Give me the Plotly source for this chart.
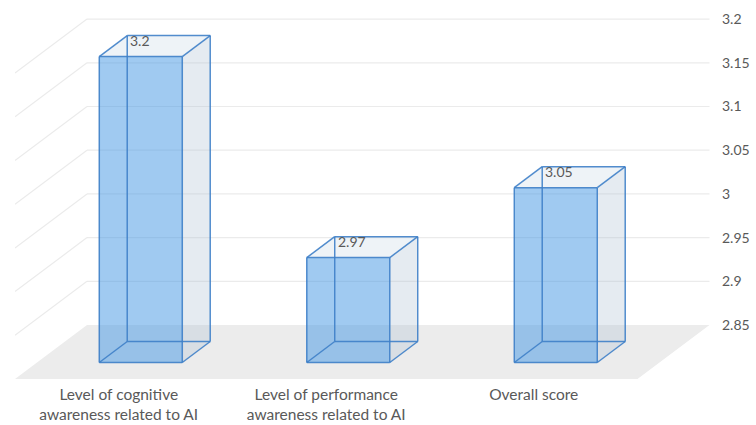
import plotly.graph_objects as go

# ---------------- data ----------------
categories = [
    "Level of cognitive<br>awareness related to AI",
    "Level of performance<br>awareness related to AI",
    "Overall score",
]
values = [3.2, 2.97, 3.05]
value_labels = ["3.2", "2.97", "3.05"]
tick_values = [2.85, 2.9, 2.95, 3.0, 3.05, 3.1, 3.15, 3.2]
tick_labels = ["2.85", "2.9", "2.95", "3", "3.05", "3.1", "3.15", "3.2"]
Y_MIN = 2.85

# ---------------- geometry ----------------
W, H = 756, 425
ML, MR, MT, MB = 15, 46, 0, 46
PX_PER_CAT = 207.5
PX_PER_UNIT = 874.0
DX = 72 / PX_PER_CAT          # full depth shift in x units
DY = 54 / PX_PER_UNIT         # full depth shift in y units
F_FRONT, F_BACK = 0.306, 0.694
HALF = 0.2
plot_w = W - ML - MR
plot_h = H - MT - MB
x_range = [-0.5, -0.5 + plot_w / PX_PER_CAT]
y_range = [Y_MIN, Y_MIN + plot_h / PX_PER_UNIT]
y2_range = [y_range[0] - DY, y_range[1] - DY]

TEXT = "#595959"
EDGE = "rgba(62,128,200,0.9)"
FONT = "Lato"

n = len(categories)
idx = list(range(n))

fig = go.Figure()

shapes = []


def path(pts):
    return "M " + " L ".join(f"{x},{y}" for x, y in pts) + " Z"


# floor
floor = [(-0.5, Y_MIN), (n - 0.5, Y_MIN), (n - 0.5 + DX, Y_MIN + DY), (-0.5 + DX, Y_MIN + DY)]
shapes.append(dict(type="path", path=path(floor), xref="x", yref="y",
                   fillcolor="#ECECEC", line=dict(width=0), layer="below"))

# back wall and side wall gridlines
for t in tick_values[1:]:
    shapes.append(dict(type="line", xref="x", yref="y", x0=-0.5 + DX, x1=n - 0.5 + DX,
                       y0=t + DY, y1=t + DY, line=dict(color="#EBEBEB", width=1.2), layer="below"))
    shapes.append(dict(type="line", xref="x", yref="y", x0=-0.5, x1=-0.5 + DX,
                       y0=t, y1=t + DY, line=dict(color="#EBEBEB", width=1.2), layer="below"))

fdx, fdy = F_FRONT * DX, F_FRONT * DY
bdx, bdy = F_BACK * DX, F_BACK * DY
ddx, ddy = bdx - fdx, bdy - fdy

annotations = []
for i, v, lab in zip(idx, values, value_labels):
    xl, xr = i + fdx - HALF, i + fdx + HALF
    yb, yt = Y_MIN + fdy, v + fdy
    # side face
    side = [(xr, yb), (xr + ddx, yb + ddy), (xr + ddx, yt + ddy), (xr, yt)]
    shapes.append(dict(type="path", path=path(side), xref="x", yref="y",
                       fillcolor="rgba(175,192,210,0.32)", line=dict(width=0), layer="below"))
    # top face
    top = [(xl, yt), (xr, yt), (xr + ddx, yt + ddy), (xl + ddx, yt + ddy)]
    shapes.append(dict(type="path", path=path(top), xref="x", yref="y",
                       fillcolor="rgba(200,215,230,0.3)", line=dict(width=0), layer="below"))
    # edges of the cuboid
    front = [(xl, yb), (xr, yb), (xr, yt), (xl, yt)]
    back = [(x + ddx, y + ddy) for x, y in front]
    edges = []
    for k in range(4):
        edges.append((front[k], front[(k + 1) % 4]))
        edges.append((back[k], back[(k + 1) % 4]))
        edges.append((front[k], back[k]))
    for (a, b) in edges:
        shapes.append(dict(type="line", xref="x", yref="y", x0=a[0], y0=a[1], x1=b[0], y1=b[1],
                           line=dict(color=EDGE, width=1.5), layer="above"))
    annotations.append(dict(x=xl + ddx, y=yt + ddy, xref="x", yref="y", text=lab,
                            showarrow=False, xanchor="left", yanchor="middle", xshift=1, yshift=-5,
                            font=dict(family=FONT, size=14, color=TEXT)))

fig.add_trace(go.Bar(
    x=[i + fdx for i in idx],
    y=[v - Y_MIN for v in values],
    base=Y_MIN + fdy,
    width=2 * HALF,
    marker=dict(color="rgba(66,150,228,0.5)", line=dict(width=0)),
    hoverinfo="skip",
    showlegend=False,
))
# invisible trace to activate the right axis
fig.add_trace(go.Scatter(x=[x_range[0]], y=[y2_range[0]], yaxis="y2", mode="markers",
                         marker=dict(opacity=0), showlegend=False, hoverinfo="skip"))

fig.update_layout(
    width=W, height=H,
    margin=dict(l=ML, r=MR, t=MT, b=MB, autoexpand=False),
    paper_bgcolor="white", plot_bgcolor="white",
    shapes=shapes, annotations=annotations,
    font=dict(family=FONT, size=14, color=TEXT),
    xaxis=dict(range=x_range, tickmode="array", tickvals=idx, ticktext=categories,
               showgrid=False, zeroline=False, showline=False, ticks="", automargin=False,
               tickfont=dict(family=FONT, size=15.5, color=TEXT), ticklabelstandoff=4),
    yaxis=dict(range=y_range, visible=False, showgrid=False, zeroline=False, automargin=False),
    yaxis2=dict(range=y2_range, overlaying="y", side="right", anchor="x", automargin=False,
                tickmode="array", tickvals=tick_values, ticktext=tick_labels,
                showgrid=False, zeroline=False, showline=False, ticks="",
                tickfont=dict(family=FONT, size=14, color=TEXT), ticklabelstandoff=11),
)

fig.write_html("out.html")
